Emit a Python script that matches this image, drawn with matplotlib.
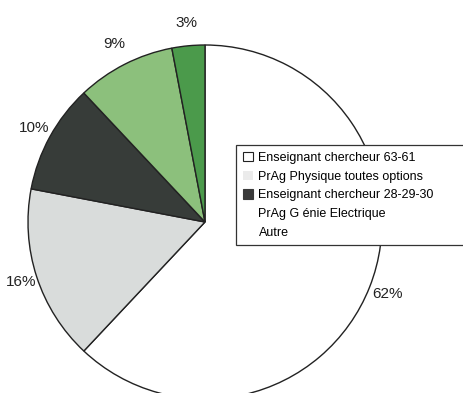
import matplotlib.pyplot as plt
from matplotlib.patches import Patch
import numpy as np

plt.rcParams['font.family'] = ['Liberation Sans', 'DejaVu Sans']

# data
categories = ["Enseignant chercheur 63-61", "PrAg Physique toutes options",
              "Enseignant chercheur 28-29-30", "PrAg G énie Electrique", "Autre"]
shares = [62, 16, 10, 9, 3]
pct_labels = ["62%", "16%", "10%", "9%", "3%"]

colors = ["#ffffff", "#d9dcdb", "#373c39", "#8cc07c", "#4b9a4b"]
legend_faces = ["#ffffff", "#ebebeb", "#3a3a3a", "none", "none"]
legend_edges = ["#222222", "none", "#3a3a3a", "none", "none"]
label_dist = [1.11, 1.09, 1.10, 1.13, 1.13]

fig = plt.figure(figsize=(4.63, 3.93), dpi=100)
ax = fig.add_axes([0, 0, 1, 1])

cx, cy, r = 205, 393 - 222, 177
wedges, texts = ax.pie(shares, colors=colors, labels=pct_labels, startangle=90,
                       counterclock=False, center=(cx, cy), radius=r,
                       wedgeprops=dict(edgecolor="#222222", linewidth=1.0),
                       textprops=dict(fontsize=11, color="#222222"))
for w, t, d in zip(wedges, texts, label_dist):
    ang = np.deg2rad((w.theta1 + w.theta2) / 2)
    t.set_position((cx + d * r * np.cos(ang), cy + d * r * np.sin(ang)))
    t.set_ha("center")
    t.set_va("center")

ax.set_xlim(0, 463)
ax.set_ylim(0, 393)
ax.set_aspect("equal")
ax.axis("off")

handles = [Patch(facecolor=f, edgecolor=e, linewidth=0.8)
           for f, e in zip(legend_faces, legend_edges)]
leg = fig.legend(handles, categories, loc="upper left",
                 bbox_to_anchor=(236 / 463, 1 - 243 / 393, 240 / 463, 98 / 393),
                 mode="expand", fontsize=9, frameon=True, fancybox=False,
                 edgecolor="#333333", framealpha=1, labelspacing=0.52,
                 handlelength=0.8, handleheight=0.8, handletextpad=0.45,
                 borderpad=0.55, borderaxespad=0)
leg.get_frame().set_linewidth(0.9)

fig.savefig("out.png", dpi=100, facecolor="white")
